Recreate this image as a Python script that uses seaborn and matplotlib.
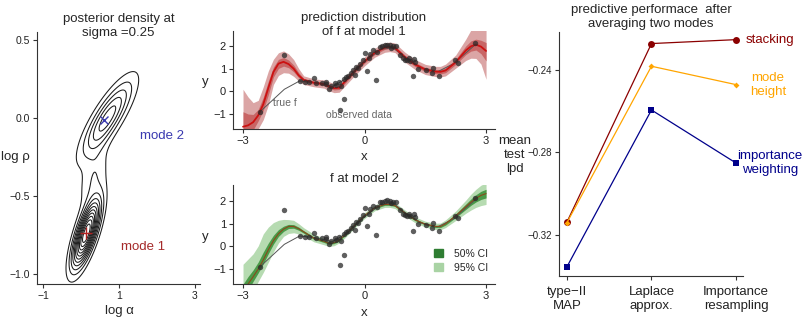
import numpy as np
import pandas as pd
import matplotlib
matplotlib.use("Agg")
import matplotlib.pyplot as plt
from matplotlib.patches import Patch
import seaborn as sns

# ---- panel 1: posterior density (mixture parameters) ----
comp_mx = [0.14, 0.70, 0.33]
comp_my = [-0.74, 0.00, -0.38]
comp_sx = [0.24, 0.44, 0.26]
comp_sy = [0.14, 0.16, 0.13]
comp_r = [0.72, 0.82, 0.55]
comp_w = [1.0, 0.81, 0.19]
mode1 = (0.13, -0.74)
mode2 = (0.61, -0.01)

# ---- panels 2/3: observed data, true f, fitted curves ----
obs_x = [-2.58, -1.98, -1.60, -1.48, -1.38, -1.25, -1.19, -0.94, -0.83, -0.87,
         -0.74, -0.62, -0.58, -0.50, -0.41, -0.33, -0.29, -0.23, -0.20, -0.12,
         -0.04, 0.07, -0.50, -0.60, 0.02, 0.28, 0.22, 0.37, 0.43, 0.51,
         0.55, 0.62, 0.70, 0.78, 0.14, 0.88, 0.95, 1.00, 1.09, 1.13,
         1.23, 1.25, 1.19, 1.33, 1.52, 1.66, 1.69, 1.85, 2.24, 2.30,
         2.73, -1.05, -0.70, -0.45, -0.15, 0.10, 0.32, 0.65, 1.05, -0.95]
obs_y = [-0.90, 1.62, 0.46, 0.42, 0.40, 0.60, 0.38, 0.42, 0.24, 0.10,
         0.38, 0.42, 0.22, 0.56, 0.66, 0.80, 0.95, 0.72, 1.08, 1.20,
         1.38, 0.90, -0.36, -0.84, 1.68, 0.52, 1.80, 1.94, 1.98, 2.02,
         2.04, 2.02, 1.98, 1.98, 1.66, 1.62, 1.45, 1.40, 1.45, 1.32,
         1.42, 1.30, 0.68, 0.98, 0.96, 0.80, 1.04, 0.68, 1.36, 1.25,
         2.14, 0.36, 0.30, 0.62, 1.05, 1.45, 1.75, 1.92, 1.36, 0.34]

truef_x = [-2.58, -1.98, -1.60, -1.20, -0.80, -0.40, 0.00, 0.40, 0.70, 1.00,
           1.40, 1.80, 2.20, 2.73]
truef_y = [-0.90, 0.09, 0.46, 0.38, 0.20, 0.62, 1.30, 1.85, 1.92, 1.50,
           1.03, 0.86, 1.22, 2.05]

grid_x = [-3.0, -2.875, -2.75, -2.625, -2.5, -2.375, -2.25, -2.125, -2.0, -1.875,
          -1.75, -1.625, -1.5, -1.25, -1.0, -0.875, -0.75, -0.625, -0.5, -0.25,
          0.0, 0.25, 0.5, 0.625, 0.75, 1.0, 1.25, 1.5, 1.75, 1.875,
          2.0, 2.25, 2.5, 2.625, 2.75, 2.875, 3.0]

m1_mean = [-1.56, -1.50, -1.36, -1.06, -0.57, 0.15, 0.85, 1.22, 1.30, 1.20,
           1.00, 0.70, 0.50, 0.38, 0.32, 0.22, 0.14, 0.16, 0.40, 0.88,
           1.32, 1.70, 1.93, 1.96, 1.92, 1.50, 1.18, 0.96, 0.87, 0.86,
           0.92, 1.28, 1.80, 1.98, 2.06, 1.97, 1.78]
m1_hi95 = [0.09, -0.25, -0.50, -0.40, 0.20, 0.90, 1.41, 1.70, 1.78, 1.65,
           1.40, 1.00, 0.68, 0.55, 0.50, 0.42, 0.34, 0.36, 0.60, 1.08,
           1.52, 1.90, 2.14, 2.17, 2.13, 1.72, 1.40, 1.19, 1.10, 1.10,
           1.20, 1.60, 2.30, 2.70, 3.00, 3.20, 3.20]
m1_lo95 = [-3.20, -2.90, -2.20, -1.65, -1.25, -0.60, 0.30, 0.70, 0.82, 0.80,
           0.66, 0.45, 0.30, 0.20, 0.14, 0.02, -0.06, -0.04, 0.20, 0.68,
           1.12, 1.50, 1.72, 1.75, 1.71, 1.28, 0.96, 0.74, 0.65, 0.63,
           0.68, 1.02, 1.36, 1.46, 1.45, 1.20, 0.53]
m1_hi50 = [-0.90, -1.00, -1.02, -0.80, -0.26, 0.45, 1.07, 1.41, 1.49, 1.38,
           1.16, 0.82, 0.57, 0.45, 0.39, 0.30, 0.22, 0.24, 0.48, 0.96,
           1.40, 1.78, 2.01, 2.04, 2.00, 1.59, 1.27, 1.05, 0.96, 0.96,
           1.03, 1.41, 2.00, 2.22, 2.30, 2.25, 2.15]
m1_lo50 = [-2.22, -2.06, -1.70, -1.30, -0.84, -0.15, 0.63, 1.01, 1.11, 1.04,
           0.86, 0.60, 0.42, 0.31, 0.25, 0.14, 0.06, 0.08, 0.32, 0.80,
           1.24, 1.62, 1.85, 1.88, 1.84, 1.41, 1.09, 0.87, 0.78, 0.77,
           0.82, 1.18, 1.62, 1.77, 1.82, 1.66, 1.34]

m2_mean = [-2.05, -1.66, -1.34, -1.00, -0.60, -0.15, 0.25, 0.56, 0.76, 0.88,
           0.88, 0.78, 0.64, 0.36, 0.22, 0.13, 0.16, 0.28, 0.48, 0.93,
           1.36, 1.70, 1.85, 1.85, 1.80, 1.47, 1.17, 0.98, 0.88, 0.88,
           1.00, 1.35, 1.75, 1.95, 2.12, 2.25, 2.33]
m2_hi95 = [-0.79, -0.56, -0.33, 0.02, 0.55, 0.85, 1.05, 1.15, 1.19, 1.18,
           1.15, 1.00, 0.82, 0.54, 0.36, 0.28, 0.30, 0.41, 0.61, 1.06,
           1.49, 1.83, 1.98, 1.98, 1.93, 1.60, 1.30, 1.11, 1.02, 1.03,
           1.17, 1.56, 2.04, 2.30, 2.52, 2.70, 2.80]
m2_lo95 = [-3.00, -2.60, -2.00, -1.55, -1.15, -0.70, -0.25, 0.15, 0.44, 0.57,
           0.60, 0.55, 0.45, 0.20, 0.07, 0.00, 0.03, 0.15, 0.35, 0.80,
           1.23, 1.57, 1.72, 1.72, 1.67, 1.34, 1.04, 0.85, 0.74, 0.73,
           0.83, 1.14, 1.46, 1.60, 1.72, 1.80, 1.85]
m2_hi50 = [-1.67, -1.33, -1.04, -0.69, -0.25, 0.15, 0.49, 0.74, 0.89, 0.97,
           0.96, 0.85, 0.69, 0.42, 0.27, 0.18, 0.21, 0.32, 0.52, 0.97,
           1.40, 1.74, 1.89, 1.89, 1.84, 1.51, 1.21, 1.02, 0.93, 0.93,
           1.06, 1.43, 1.87, 2.09, 2.28, 2.43, 2.52]
m2_lo50 = [-2.34, -1.94, -1.54, -1.17, -0.77, -0.32, 0.10, 0.44, 0.66, 0.79,
           0.80, 0.71, 0.58, 0.31, 0.17, 0.09, 0.12, 0.24, 0.44, 0.89,
           1.32, 1.66, 1.81, 1.81, 1.76, 1.43, 1.13, 0.94, 0.83, 0.83,
           0.94, 1.27, 1.63, 1.81, 1.96, 2.07, 2.14]

# ---- panel 4: mean test lpd ----
methods = ["type\u2212II\nMAP", "Laplace\napprox.", "Importance\nresampling"]
lpd_stacking = [-0.3137, -0.2272, -0.2253]
lpd_mode_height = [-0.3140, -0.2382, -0.2471]
lpd_importance = [-0.3354, -0.2594, -0.2851]

sns.set_theme(style="ticks")
plt.rcParams["font.family"] = ["Liberation Sans", "DejaVu Sans"]
plt.rcParams["axes.edgecolor"] = "#333333"
plt.rcParams["axes.linewidth"] = 0.8
plt.rcParams["xtick.color"] = "#333333"
plt.rcParams["ytick.color"] = "#333333"
plt.rcParams["xtick.labelcolor"] = "#222222"
plt.rcParams["ytick.labelcolor"] = "#222222"

fig = plt.figure(figsize=(8.06, 3.24), dpi=100)
ax1 = fig.add_axes([0.0459, 0.1235, 0.2022, 0.7778])
ax2 = fig.add_axes([0.2891, 0.6019, 0.3251, 0.3025])
ax3 = fig.add_axes([0.2891, 0.1235, 0.3251, 0.3056])
ax4 = fig.add_axes([0.6935, 0.1481, 0.2283, 0.7531])

for ax in (ax1, ax2, ax3, ax4):
    sns.despine(ax=ax)
    ax.tick_params(length=3, width=0.8, pad=2)

# ---- panel 1 ----
gx, gy = np.meshgrid(np.linspace(-0.9, 2.4, 400), np.linspace(-1.25, 0.65, 400))
dens = np.zeros_like(gx)
for mx, my, sx, sy, r, w in zip(comp_mx, comp_my, comp_sx, comp_sy, comp_r, comp_w):
    zx = (gx - mx) / sx
    zy = (gy - my) / sy
    q = (zx ** 2 - 2 * r * zx * zy + zy ** 2) / (1 - r ** 2)
    dens += w * np.exp(-0.5 * q) / (2 * np.pi * sx * sy * np.sqrt(1 - r ** 2))
levels = np.linspace(0, dens.max(), 13)[1:-1]
ax1.contour(gx, gy, dens, levels=levels, colors="#1a1a1a", linewidths=0.75)
ax1.plot(*mode1, marker="+", color="#b22222", markersize=8, mew=1.0)
ax1.plot(*mode2, marker="x", color="#3a3ab0", markersize=6, mew=1.0)
ax1.text(2.13, -0.115, "mode 2", color="#3a3ab0", fontsize=9.5, ha="center", va="center")
ax1.text(1.63, -0.83, "mode 1", color="#a52a2a", fontsize=9.5, ha="center", va="center")
ax1.set_xlim(-1.158, 3.13)
ax1.set_ylim(-1.064, 0.551)
ax1.set_xticks([-1, 1, 3])
ax1.set_yticks([-1.0, -0.5, 0.0, 0.5])
ax1.set_yticklabels(["\u22121.0", "\u22120.5", "0.0", "0.5"])
ax1.tick_params(labelsize=7.5)
ax1.set_title("posterior density at\nsigma =0.25", fontsize=9.5, y=0.984, pad=0)
ax1.set_xlabel("log \u03b1", fontsize=9.5)
ax1.set_ylabel("log \u03c1", fontsize=9.5, rotation=0, ha="center", va="center")
ax1.xaxis.set_label_coords(0.503, -0.083)
ax1.yaxis.set_label_coords(-0.135, 0.504)

# ---- panels 2/3 ----
obs = pd.DataFrame({"x": obs_x, "y": obs_y})
fits = [
    (ax2, m1_mean, m1_lo95, m1_hi95, m1_lo50, m1_hi50, "#dba5a5", "#c86565",
     "#cc1111", 1.3, "prediction distribution\nof f at model 1", 0.959),
    (ax3, m2_mean, m2_lo95, m2_hi95, m2_lo50, m2_hi50, "#b6dbb1", "#4a9a48",
     "#8a4a1c", 0.8, "f at model 2", 1.027),
]
for ax, mean, lo95, hi95, lo50, hi50, c95, c50, cm, lw, title, ty in fits:
    ax.fill_between(grid_x, lo95, hi95, color=c95, lw=0)
    ax.fill_between(grid_x, lo50, hi50, color=c50, lw=0)
    sns.lineplot(x=truef_x, y=truef_y, ax=ax, color="#555555", lw=0.7)
    sns.lineplot(x=grid_x, y=mean, ax=ax, color=cm, lw=lw)
    sns.scatterplot(data=obs, x="x", y="y", ax=ax, color="#2a2a2a", alpha=0.75,
                    s=15, linewidth=0, zorder=5)
    ax.set_xlim(-3.247, 3.222)
    ax.set_xticks([-3, 0, 3])
    ax.set_yticks([-1, 0, 1, 2])
    ax.tick_params(labelsize=8)
    ax.set_title(title, fontsize=9.5, y=ty, pad=0)
    ax.set_xlabel("x", fontsize=9.5)
    ax.set_ylabel("y", fontsize=9.5, rotation=0, ha="center", va="center")

ax2.set_ylim(-1.66, 2.66)
ax3.set_ylim(-1.66, 2.71)
ax2.xaxis.set_label_coords(0.5, -0.225)
ax2.yaxis.set_label_coords(-0.107, 0.48)
ax3.xaxis.set_label_coords(0.5, -0.23)
ax3.yaxis.set_label_coords(-0.107, 0.478)
ax2.text(-2.27, -0.53, "true f", color="#666666", fontsize=7.5, ha="left", va="center")
ax2.text(-0.94, -1.04, "observed data", color="#666666", fontsize=7.5, ha="left", va="center")
ax3.legend(handles=[Patch(color="#2e7d32", label="50% CI"),
                    Patch(color="#a9d3a4", label="95% CI")],
           loc="lower right", bbox_to_anchor=(1.0, 0.04), frameon=False,
           fontsize=7.5, handlelength=0.9, handleheight=0.9, handletextpad=1.0,
           labelspacing=0.4, borderpad=0.2)

# ---- panel 4 ----
pos = [0, 1, 2]
series = [
    (lpd_stacking, "#8b0000", "o", 5.0),
    (lpd_mode_height, "#ffa500", "D", 3.0),
    (lpd_importance, "#00008b", "s", 4.2),
]
for vals, col, mk, ms in series:
    sns.lineplot(x=pos, y=vals, ax=ax4, color=col, lw=0.9, marker=mk,
                 markersize=ms, markeredgewidth=0)
ax4.set_xlim(-0.095, 2.083)
ax4.set_ylim(-0.3399, -0.2216)
ax4.set_xticks(pos)
ax4.set_xticklabels(methods, fontsize=9.5)
ax4.set_yticks([-0.32, -0.28, -0.24])
ax4.set_yticklabels(["\u22120.32", "\u22120.28", "\u22120.24"], fontsize=7)
ax4.tick_params(axis="x", pad=4)
ax4.set_title("predictive performace  after\naveraging two modes", fontsize=9.5,
              y=1.022, pad=0)
ax4.set_ylabel("mean\ntest\nlpd", fontsize=9.5, rotation=0, ha="center", va="center")
ax4.yaxis.set_label_coords(-0.239, 0.496)
ax4.text(2.118, -0.2255, "stacking", color="#8b0000", fontsize=9.5, ha="left",
         va="center", clip_on=False)
ax4.text(2.38, -0.2473, "mode\nheight", color="#ffa500", fontsize=9.5, ha="center",
         va="center", clip_on=False)
ax4.text(2.40, -0.2853, "importance\nweighting", color="#00008b", fontsize=9.5,
         ha="center", va="center", clip_on=False)

fig.savefig("out.png", dpi=100)
